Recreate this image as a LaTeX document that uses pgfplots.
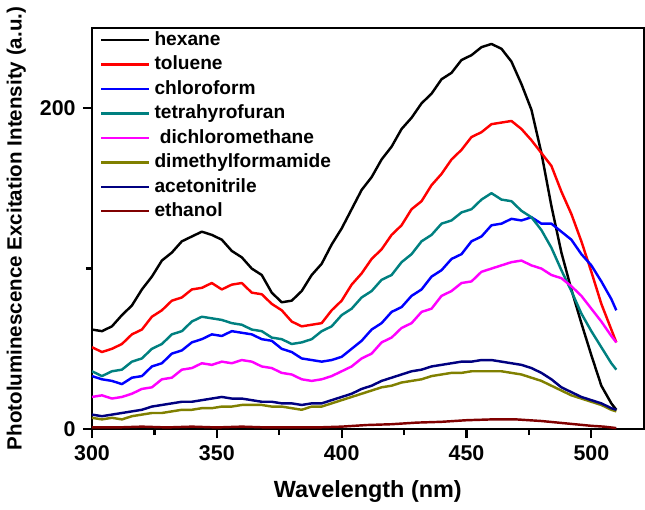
\documentclass[border=0pt]{standalone}
\usepackage{fontspec}
\setmainfont{Liberation Sans}
\usepackage{pgfplots}
\pgfplotsset{compat=1.18}

\definecolor{cHex}{RGB}{0,0,0}
\definecolor{cTol}{RGB}{255,0,0}
\definecolor{cChl}{RGB}{0,0,255}
\definecolor{cThf}{RGB}{0,128,128}
\definecolor{cDcm}{RGB}{255,0,255}
\definecolor{cDmf}{RGB}{128,128,0}
\definecolor{cAcn}{RGB}{0,0,128}
\definecolor{cEth}{RGB}{128,0,0}

\begin{document}
\begin{tikzpicture}
\begin{axis}[
  name=ax,
  scale only axis,
  width=271pt, height=197pt,
  xmin=300, xmax=521,
  ymin=0, ymax=250,
  xtick={300,350,400,450,500},
  ytick={0,200},
  minor xtick={325,375,425,475},
  minor ytick={100},
  tick pos=left,
  tick align=outside,
  major tick length=4.5pt,
  minor tick length=3pt,
  tick style={line width=1.1pt, black},
  axis line style={line width=1.2pt, black},
  /pgf/number format/assume math mode=true,
  tick label style={font=\fontsize{10.5}{12}\selectfont\bfseries},
  xlabel={Wavelength (nm)},
  ylabel={Photoluminescence Excitation Intensity (a.u.)},
  xlabel style={font=\fontsize{11.5}{13}\selectfont\bfseries, yshift=-3pt},
  ylabel style={font=\fontsize{10.1}{12}\selectfont\bfseries},
  legend style={at={(0.01,1.007)}, anchor=north west, draw=none, fill=none,
    font=\fontsize{9.4}{11}\selectfont\bfseries, row sep=-0.3pt,
    inner sep=1pt},
  legend cell align=left,
  legend image code/.code={\draw[#1, line width=1.2pt] (0cm,0cm) -- (0.83cm,0cm);},
  every axis plot/.append style={line width=1.2pt, line join=round},
]
\addplot[cHex] coordinates {
(300,62) (304,61) (308,64) (312,71) (316,77) (320,87) (324,95) (328,105)
(332,110) (336,117) (340,120) (344,123) (348,121) (352,118) (356,111) (360,107)
(364,100) (368,96) (372,85) (376,79) (380,80) (384,86) (388,96) (392,103)
(396,115) (400,125) (404,137) (408,149) (412,157) (416,168) (420,176) (424,187)
(428,194) (432,203) (436,209) (440,218) (444,222) (448,230) (452,233) (456,238)
(460,240) (464,237) (468,229) (472,215) (476,199) (480,172) (484,139) (488,110)
(492,87) (496,66) (500,46) (504,27) (508,16) (510,12)};
\addlegendentry{hexane}
\addplot[cTol] coordinates {
(300,51) (304,48) (308,50) (312,53) (316,59) (320,62) (324,70) (328,74)
(332,80) (336,82) (340,87) (344,88) (348,91) (352,87) (356,90) (360,91)
(364,85) (368,84) (372,78) (376,74) (380,67) (384,64) (388,65) (392,66)
(396,74) (400,80) (404,90) (408,97) (412,106) (416,112) (420,121) (424,127)
(428,137) (432,142) (436,152) (440,159) (444,168) (448,174) (452,182) (456,185)
(460,190) (464,191) (468,192) (472,187) (476,180) (480,172) (484,164) (488,148)
(492,134) (496,117) (500,98) (504,78) (508,62) (510,54)};
\addlegendentry{toluene}
\addplot[cChl] coordinates {
(300,33) (304,31) (308,30) (312,28) (316,32) (320,33) (324,39) (328,41)
(332,47) (336,49) (340,54) (344,56) (348,59) (352,58) (356,61) (360,60)
(364,59) (368,56) (372,55) (376,50) (380,48) (384,44) (388,43) (392,42)
(396,43) (400,45) (404,50) (408,55) (412,62) (416,66) (420,73) (424,76)
(428,83) (432,87) (436,95) (440,99) (444,106) (448,109) (452,117) (456,120)
(460,127) (464,128) (468,131) (472,130) (476,132) (480,128) (484,128) (488,123)
(492,118) (496,109) (500,102) (504,92) (508,81) (510,74)};
\addlegendentry{chloroform}
\addplot[cThf] coordinates {
(300,36) (304,33) (308,36) (312,37) (316,42) (320,44) (324,50) (328,53)
(332,59) (336,61) (340,67) (344,70) (348,69) (352,68) (356,66) (360,65)
(364,62) (368,61) (372,57) (376,56) (380,53) (384,54) (388,56) (392,61)
(396,64) (400,71) (404,75) (408,82) (412,86) (416,93) (420,96) (424,104)
(428,109) (432,117) (436,121) (440,128) (444,130) (448,135) (452,137) (456,143)
(460,147) (464,143) (468,142) (472,136) (476,132) (480,124) (484,113) (488,99)
(492,86) (496,72) (500,61) (504,51) (508,41) (510,37)};
\addlegendentry{tetrahyrofuran}
\addplot[cDcm] coordinates {
(300,20) (304,21) (308,19) (312,20) (316,22) (320,25) (324,26) (328,31)
(332,32) (336,37) (340,38) (344,41) (348,40) (352,42) (356,41) (360,43)
(364,42) (368,39) (372,38) (376,35) (380,34) (384,31) (388,30) (392,31)
(396,33) (400,36) (404,39) (408,44) (412,47) (416,54) (420,57) (424,63)
(428,66) (432,73) (436,75) (440,83) (444,86) (448,91) (452,92) (456,98)
(460,100) (464,102) (468,104) (472,105) (476,102) (480,100) (484,96) (488,94)
(492,89) (496,83) (500,75) (504,67) (508,58) (510,54)};
\addlegendentry{\ dichloromethane}
\addplot[cDmf] coordinates {
(300,7) (304,6) (308,7) (312,6) (316,8) (320,9) (324,10) (328,10)
(332,11) (336,12) (340,12) (344,13) (348,13) (352,14) (356,14) (360,15)
(364,15) (368,15) (372,14) (376,14) (380,13) (384,12) (388,14) (392,14)
(396,16) (400,18) (404,20) (408,22) (412,24) (416,26) (420,27) (424,29)
(428,30) (432,31) (436,33) (440,34) (444,35) (448,35) (452,36) (456,36)
(460,36) (464,36) (468,35) (472,34) (476,32) (480,30) (484,27) (488,24)
(492,21) (496,19) (500,17) (504,15) (508,12) (510,11)};
\addlegendentry{dimethylformamide}
\addplot[cAcn] coordinates {
(300,9) (304,8) (308,9) (312,10) (316,11) (320,12) (324,14) (328,15)
(332,16) (336,17) (340,17) (344,18) (348,19) (352,20) (356,19) (360,19)
(364,18) (368,17) (372,17) (376,16) (380,16) (384,15) (388,16) (392,16)
(396,18) (400,20) (404,22) (408,25) (412,27) (416,30) (420,32) (424,34)
(428,36) (432,37) (436,39) (440,40) (444,41) (448,42) (452,42) (456,43)
(460,43) (464,42) (468,41) (472,40) (476,38) (480,35) (484,31) (488,26)
(492,23) (496,20) (500,18) (504,16) (508,13) (510,12)};
\addlegendentry{acetonitrile}
\addplot[cEth] coordinates {
(300,1) (310,1) (320,1.5) (330,1) (340,1.5) (350,1) (360,1.5) (370,1)
(380,1) (390,1) (400,1.5) (410,2.5) (420,3) (430,4) (440,4.5) (450,5.5)
(460,6) (470,6) (480,5) (490,3.5) (500,2) (505,1.5) (510,0.6)};
\addlegendentry{ethanol}
\end{axis}
\draw[line width=1.2pt] (0,197pt) -- (271pt,197pt);
\path (0,197pt) -- (0,204.5pt);
\end{tikzpicture}
\end{document}
